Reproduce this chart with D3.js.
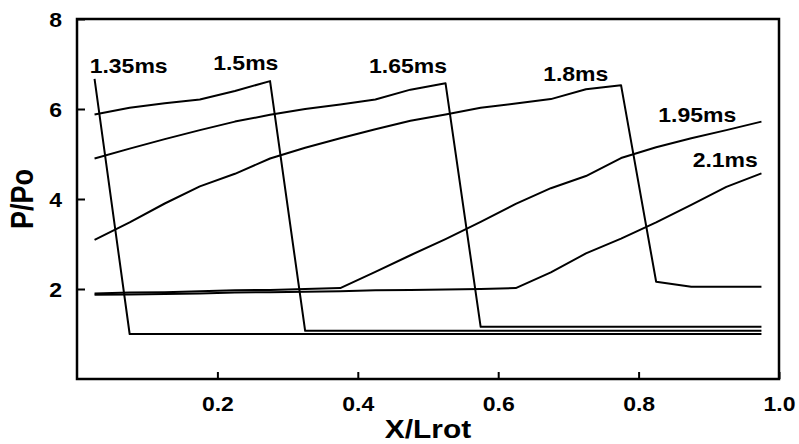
<!DOCTYPE html>
<html>
<head>
<meta charset="utf-8">
<script src="https://cdn.jsdelivr.net/npm/d3@7"></script>
<style>
  body { margin: 0; background: #ffffff; }
  svg { display: block; }
  text { font-family: "Liberation Sans", Arial, sans-serif; font-weight: bold; fill: #000; }
</style>
</head>
<body>
<div id="chart"></div>
<script>
// x positions (X/Lrot) shared by all curves
const xPos = [0.025, 0.075, 0.125, 0.175, 0.225, 0.275, 0.325, 0.375, 0.425, 0.475,
              0.525, 0.575, 0.625, 0.675, 0.725, 0.775, 0.825, 0.875, 0.925, 0.975];

// P/Po for each time
const p135 = [6.67, 1.00, 1.00, 1.00, 1.00, 1.00, 1.00, 1.00, 1.00, 1.00,
              1.00, 1.00, 1.00, 1.00, 1.00, 1.00, 1.00, 1.00, 1.00, 1.00];
const p150 = [5.88, 6.03, 6.13, 6.21, 6.40, 6.62, 1.07, 1.07, 1.07, 1.07,
              1.07, 1.07, 1.07, 1.07, 1.07, 1.07, 1.07, 1.07, 1.07, 1.07];
const p165 = [4.90, 5.12, 5.33, 5.53, 5.72, 5.87, 6.00, 6.10, 6.21, 6.43,
              6.57, 1.16, 1.16, 1.16, 1.16, 1.16, 1.16, 1.16, 1.16, 1.16];
const p180 = [3.09, 3.48, 3.90, 4.28, 4.56, 4.90, 5.14, 5.35, 5.55, 5.74,
              5.88, 6.03, 6.12, 6.22, 6.44, 6.53, 2.16, 2.05, 2.05, 2.05];
const p195 = [1.90, 1.92, 1.93, 1.95, 1.97, 1.98, 2.00, 2.02, 2.38, 2.75,
              3.11, 3.49, 3.89, 4.24, 4.51, 4.91, 5.15, 5.35, 5.53, 5.72];
const p210 = [1.87, 1.88, 1.89, 1.90, 1.92, 1.93, 1.94, 1.95, 1.97, 1.98,
              1.99, 2.00, 2.02, 2.37, 2.79, 3.12, 3.48, 3.87, 4.27, 4.57];

const seriesNames = ["1.35ms", "1.5ms", "1.65ms", "1.8ms", "1.95ms", "2.1ms"];
// label anchor (left, baseline) in data units
const labelX = [0.018, 0.194, 0.416, 0.664, 0.828, 0.877];
const labelY = [6.80, 6.87, 6.80, 6.62, 5.71, 4.71];

const xTicks = [0.2, 0.4, 0.6, 0.8, 1.0];
const yTicks = [2, 4, 6, 8];

const series = [p135, p150, p165, p180, p195, p210];

const W = 799, H = 444;
const margin = { top: 19, right: 20, bottom: 65, left: 77 };
const width = W - margin.left - margin.right,
      height = H - margin.top - margin.bottom;
const stretch = 1.15; // text in the picture is a little wide

const svg = d3.select("#chart")
    .append("svg")
    .attr("width", W)
    .attr("height", H);

const g = svg.append("g")
    .attr("transform", `translate(${margin.left},${margin.top})`);

const x = d3.scaleLinear().domain([0, 1]).range([0, width]);
const y = d3.scaleLinear().domain([0, 8]).range([height, 0]);

// axes with inward ticks
const xAxis = g.append("g")
    .attr("transform", `translate(0,${height})`)
    .call(d3.axisBottom(x).tickValues(xTicks).tickSize(-7).tickPadding(18)
        .tickFormat(d3.format(".1f")));
xAxis.select(".domain").remove();
xAxis.selectAll("line").attr("stroke", "#000").attr("stroke-width", 2);
xAxis.selectAll("text")
    .attr("font-size", "20px")
    .attr("transform", `scale(${stretch},1)`);

const yAxis = g.append("g")
    .call(d3.axisLeft(y).tickValues(yTicks).tickSize(-8).tickPadding(13)
        .tickFormat(d3.format("d")));
yAxis.select(".domain").remove();
yAxis.selectAll("line").attr("stroke", "#000").attr("stroke-width", 2);
yAxis.selectAll("text")
    .attr("font-size", "20px")
    .attr("dy", "0.36em")
    .attr("transform", `scale(${stretch},1)`);

// frame
g.append("rect")
    .attr("width", width)
    .attr("height", height)
    .attr("fill", "none")
    .attr("stroke", "#000")
    .attr("stroke-width", 2.5);

// curves
const line = d3.line()
    .x((d, i) => x(xPos[i]))
    .y(d => y(d));

g.selectAll(".curve")
    .data(series)
    .enter()
    .append("path")
    .attr("class", "curve")
    .attr("fill", "none")
    .attr("stroke", "#000")
    .attr("stroke-width", 2)
    .attr("stroke-linejoin", "round")
    .attr("d", line);

// curve labels
g.selectAll(".lab")
    .data(seriesNames)
    .enter()
    .append("text")
    .attr("class", "lab")
    .attr("font-size", "20px")
    .attr("transform", (d, i) => `translate(${x(labelX[i])},${y(labelY[i])}) scale(${stretch},1)`)
    .text(d => d);

// axis titles
svg.append("text")
    .attr("font-size", "26px")
    .attr("text-anchor", "middle")
    .attr("transform", `translate(${margin.left + width / 2},438) scale(${stretch},1)`)
    .text("X/Lrot");

svg.append("text")
    .attr("font-size", "27px")
    .attr("text-anchor", "middle")
    .attr("transform", `translate(33,${margin.top + height / 2}) scale(${stretch},1) rotate(-90)`)
    .text("P/Po");
</script>
</body>
</html>
